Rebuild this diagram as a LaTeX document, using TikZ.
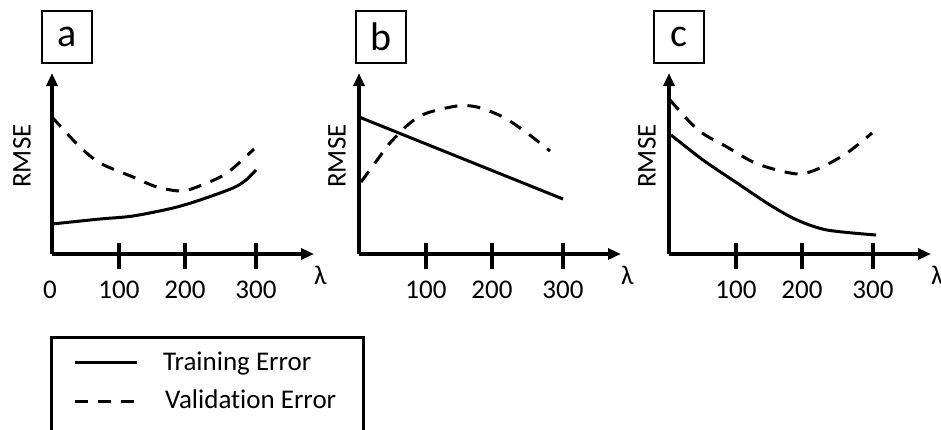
\documentclass[tikz,border=0pt]{standalone}
\usepackage{fontspec}
\setmainfont[Ligatures={NoCommon}]{Carlito}
\usepackage{tikz}
\usetikzlibrary{positioning,arrows.meta}
\tikzstyle{lb}=[%
      rectangle, draw=black, line width=2.5pt, fill=white,
      minimum width=50pt, minimum height=52pt, inner sep=0pt,
      font=\fontsize{40}{44}\selectfont
]
\tikzstyle{inv}=[%
      rectangle, draw=none, inner sep=0pt,
      font=\fontsize{27}{32}\selectfont
]
\tikzstyle{num}=[%
      rectangle, draw=none, inner sep=0pt,
      font=\fontsize{27}{32}\selectfont
]
\tikzstyle{ax}=[line width=3.3pt, -{Triangle[length=13pt,width=11pt]}]
\tikzstyle{tk}=[line width=3.3pt]
\tikzstyle{tr}=[line width=3pt, line join=round]
\tikzstyle{va}=[line width=3pt, dash pattern=on 13pt off 10pt]

\begin{document}
\begin{tikzpicture}[x=1pt, y=-1pt]
    \clip (0,0) rectangle (941,429);
    % axes of the three panels
    \foreach \p/\ox/\bx/\rx in {a/52/67/22, b/359/381/337, c/669/679/647}{
      \coordinate (o\p) at (\ox,254);
      \coordinate (y\p) at (\ox,73);
      \coordinate (x\p) at (\ox+262,254);
      \node[lb]  (box\p) at (\bx,37) {\p};
      \node[inv, rotate=90] (rmse\p) at (\rx,156) {RMSE};
      \node[inv] (lam\p) [below right = 12pt and 0pt of x\p] {λ};
      \draw[ax] (o\p) -- (y\p);
      \draw[ax] (o\p) -- (x\p);
      \foreach \t/\d in {100/67, 200/133, 300/204}{
        \draw[tk] ([shift={(\d,-11)}]o\p) -- ([shift={(\d,15)}]o\p);
        \node[num] (n\p\t) at ([shift={(\d,36)}]o\p) {\t};
      }
    }
    \node[num] (na0) at (50,290) {0};

    % a
    \draw[va] plot[smooth] coordinates {(52,117) (78,145) (100,163) (133,177)
      (157,187) (182,191) (202,185) (227,173) (254,149)};
    \draw[tr] plot[smooth] coordinates {(52,224) (100,219) (133,216) (173,208)
      (200,200) (233,188) (246,180) (256,170)};
    % b
    \draw[va] plot[smooth] coordinates {(361,182) (375,163) (390,143) (410,123)
      (427,113) (457,106) (477,107) (503,117) (527,133) (550,151)};
    \draw[tr] (359,117) -- (563,199);
    % c
    \draw[va] plot[smooth] coordinates {(670,100) (698,130) (727,147) (753,162)
      (777,170) (800,174) (820,168) (847,153) (872,133)};
    \draw[tr] plot[smooth] coordinates {(671,135) (703,160) (737,183) (770,205)
      (797,220) (827,230) (876,235)};

    % legend
    \draw[line width=3pt] (51,337) rectangle (363,470);
    \coordinate (t1) at (75,362);
    \coordinate (t2) at (137,362);
    \coordinate (v1) at (75,401);
    \coordinate (v2) at (137,401);
    \draw[tr] (t1) -- (t2);
    \draw[va] (v1) -- (v2);
    \node[inv, anchor=base west] (ltr) at (163,370) {Training Error};
    \node[inv, anchor=base west] (lva) at (165,408) {Validation Error};
\end{tikzpicture}
\end{document}
